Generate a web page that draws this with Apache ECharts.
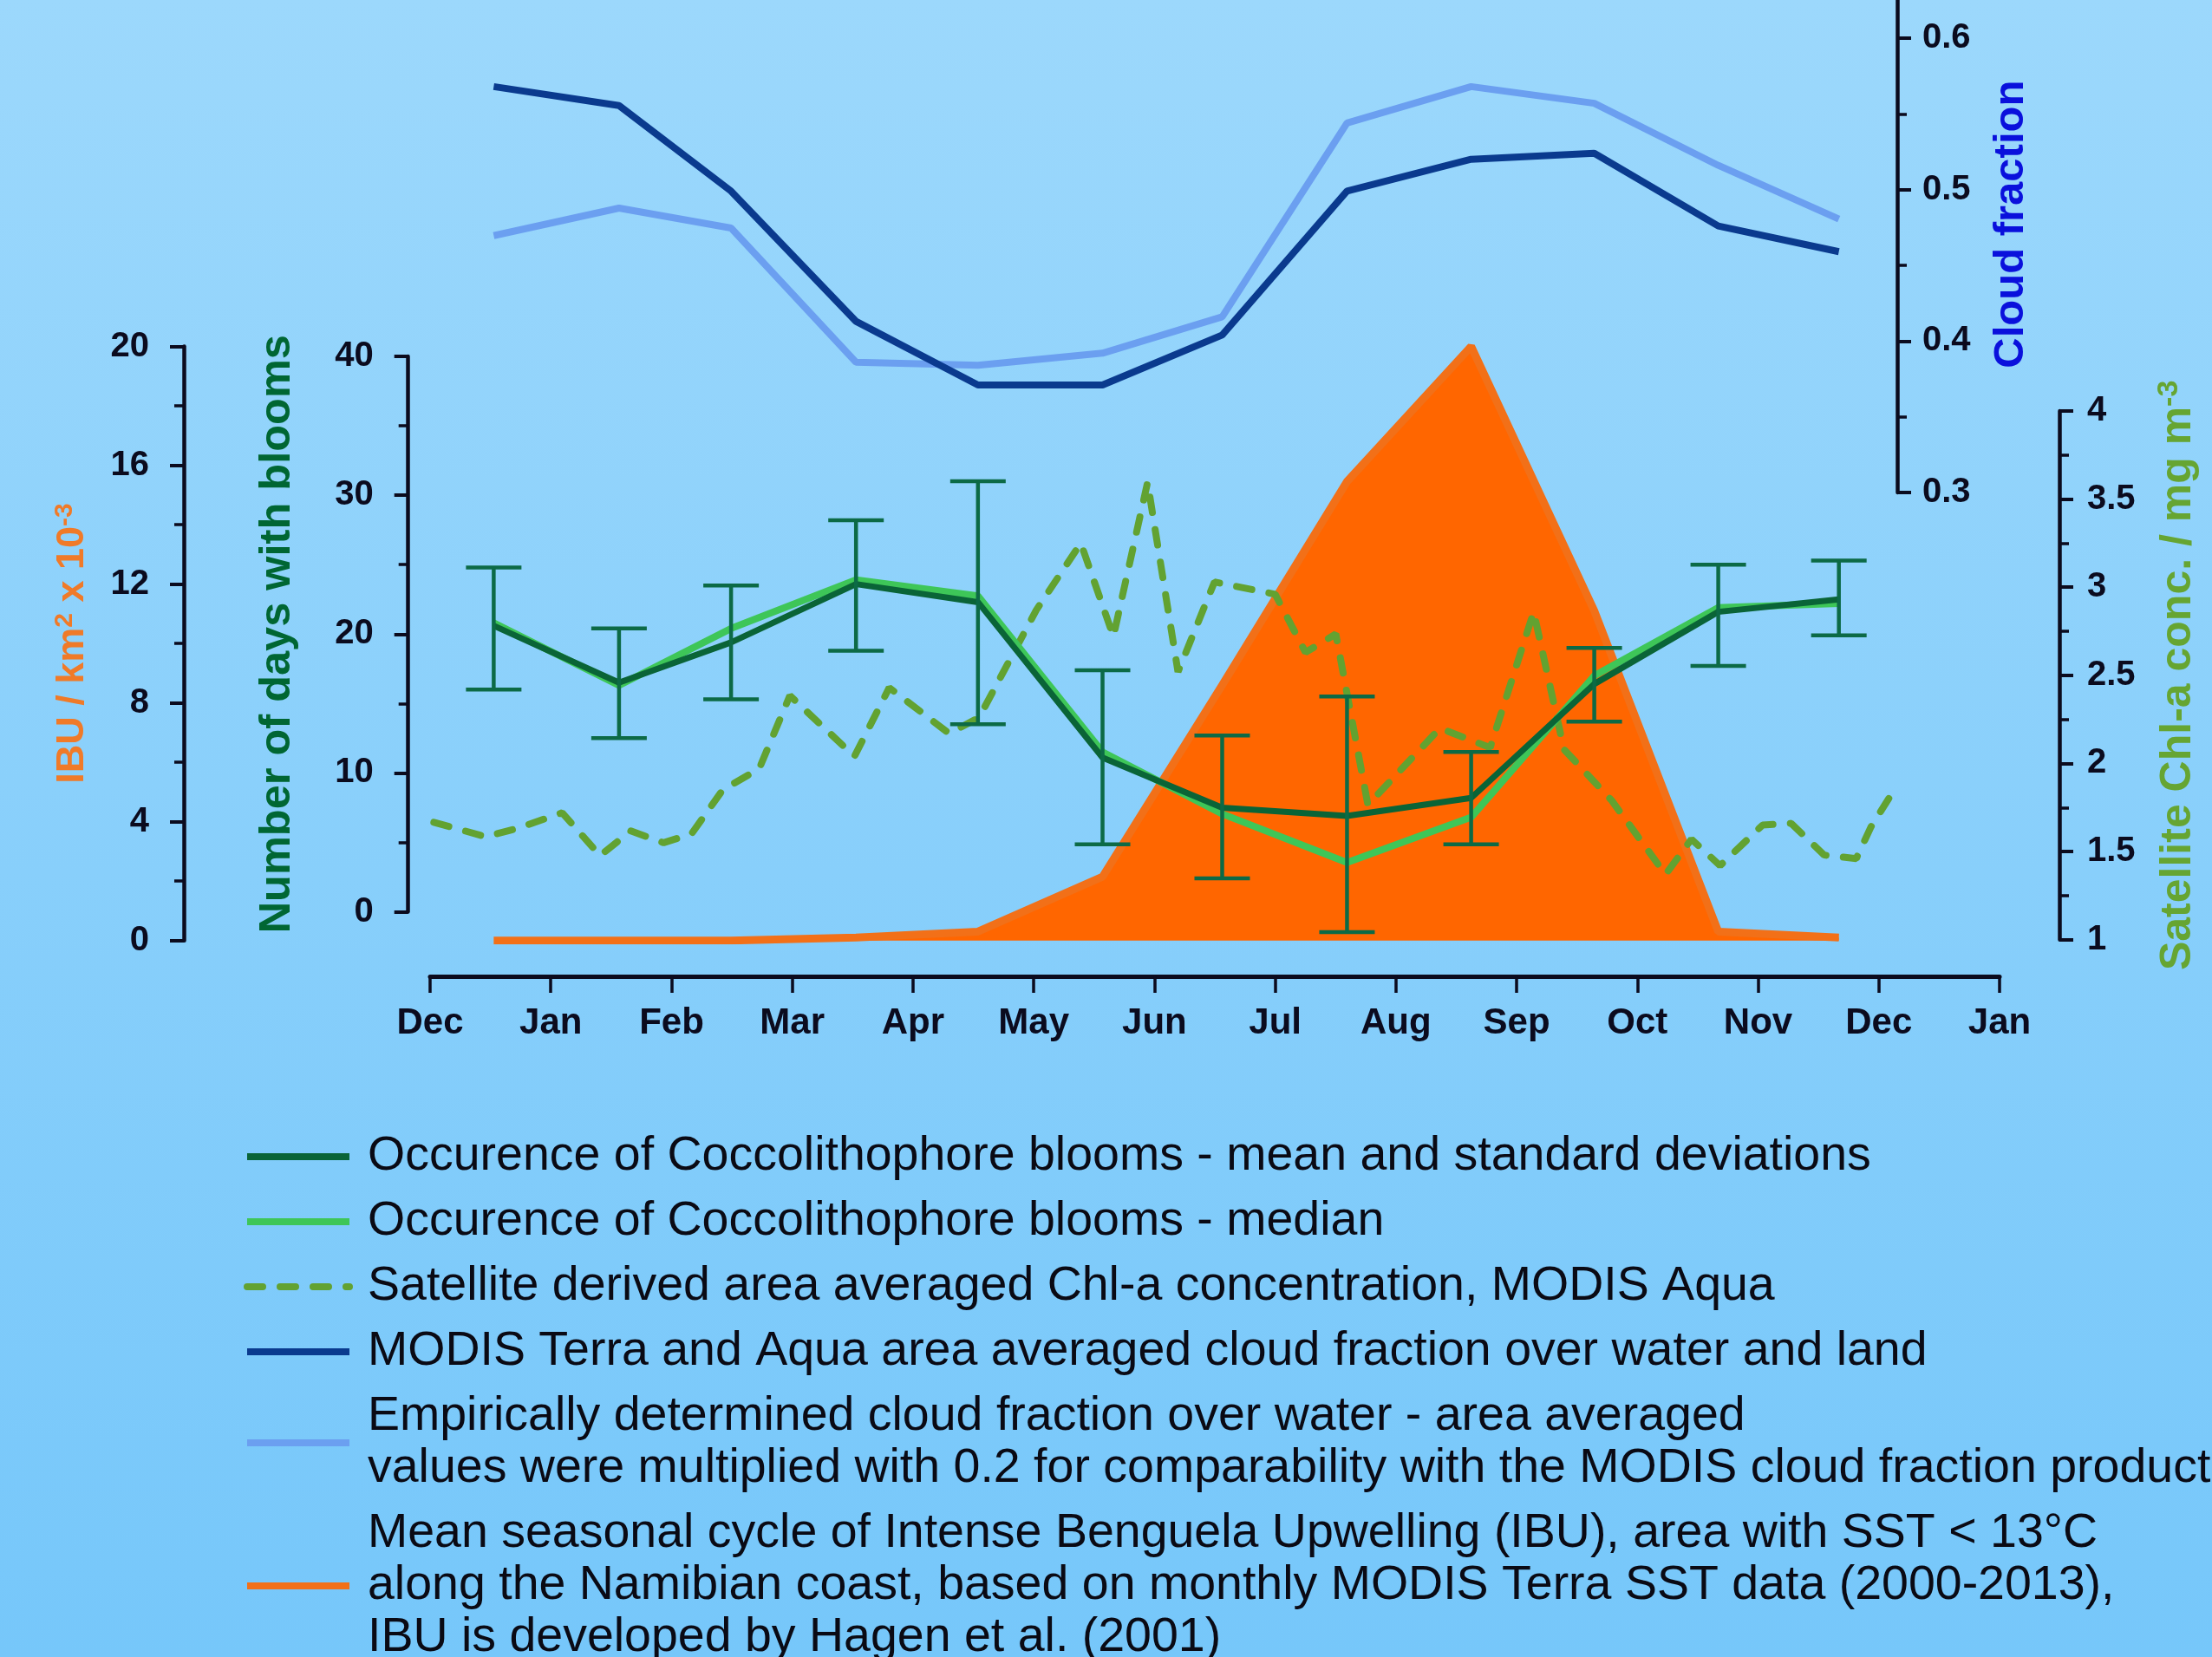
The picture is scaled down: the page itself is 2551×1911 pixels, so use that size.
<!DOCTYPE html>
<html>
<head>
<meta charset="utf-8">
<script src="https://cdn.jsdelivr.net/npm/echarts@6/dist/echarts.min.js"></script>
<style>
html,body{margin:0;padding:0;}
#chart{width:2551px;height:1911px;}
</style>
</head>
<body>
<div id="chart"></div>
<script>
// ---------- data ----------
// x axis: month tick labels at positions 0..13
const monthTickLabels = ['Dec','Jan','Feb','Mar','Apr','May','Jun','Jul','Aug','Sep','Oct','Nov','Dec','Jan'];
// positions of the 12 monthly values on that axis
const monthPos = [0.527, 1.565, 2.493, 3.528, 4.538, 5.570, 6.561, 7.595, 8.623, 9.643, 10.670, 11.669];

// Intense Benguela Upwelling, km2 x 10^-3
const ibu = [0, 0, 0, 0.1, 0.3, 2.15, 8.6, 15.45, 20.0, 11.1, 0.3, 0.1];

// Number of days with blooms
const bloomMean   = [20.6, 16.5, 19.4, 23.6, 22.3, 11.1, 7.5, 6.9, 8.2, 16.4, 21.6, 22.5];
const bloomMedian = [20.8, 16.3, 20.4, 23.9, 22.75, 11.5, 7.05, 3.55, 6.8, 17.0, 21.9, 22.2];
const bloomLower  = [16.0, 12.5, 15.3, 18.8, 13.5, 4.85, 2.4, -1.46, 4.85, 13.7, 17.7, 19.9];
const bloomUpper  = [24.8, 20.4, 23.5, 28.2, 31.0, 17.4, 12.7, 15.5, 11.5, 19.0, 25.0, 25.3];

// Satellite Chl-a concentration (mg m-3), finer time steps
const chlPos = [0.031, 0.462, 0.728, 1.094, 1.408, 1.662, 1.935, 2.165, 2.424, 2.726,
                2.980, 3.515, 3.803, 4.299, 4.547, 5.021, 5.390, 5.660, 5.943, 6.195,
                6.497, 7.000, 7.251, 7.502, 7.768, 8.365, 8.781, 9.141, 9.392, 9.787,
                10.233, 10.448, 10.685, 11.037, 11.274, 11.547, 11.813, 11.935, 12.100];
const chlValues = [1.666, 1.584, 1.633, 1.72, 1.477, 1.617, 1.55, 1.60, 1.85, 1.97,
                   2.385, 2.04, 2.43, 2.17, 2.26, 2.87, 3.25, 2.72, 3.595, 2.52,
                   3.03, 2.96, 2.63, 2.735, 1.765, 2.20, 2.09, 2.86, 2.08, 1.79,
                   1.37, 1.57, 1.42, 1.65, 1.66, 1.48, 1.46, 1.64, 1.82];

// Cloud fraction
const cloudModis     = [0.568, 0.5555, 0.499, 0.413, 0.371, 0.371, 0.404, 0.499, 0.520, 0.524, 0.476, 0.459];
const cloudEmpirical = [0.4696, 0.4878, 0.4746, 0.386, 0.384, 0.392, 0.416, 0.544, 0.568, 0.557, 0.516, 0.4805];

// axis ranges / ticks
const ibuAxis   = {min: 0, max: 20, interval: 4};
const daysAxis  = {min: 0, max: 40, interval: 10};
const cloudAxis = {min: 0.3, max: 0.7, interval: 0.1};
const chlAxis   = {min: 1, max: 4, interval: 0.5};

// legend names
const nameMean   = 'Occurence of Coccolithophore blooms - mean and standard deviations';
const nameMedian = 'Occurence of Coccolithophore blooms - median';
const nameChl    = 'Satellite derived area averaged Chl-a concentration, MODIS Aqua';
const nameModis  = 'MODIS Terra and Aqua area averaged cloud fraction over water and land';
const nameEmp    = 'Empirically determined cloud fraction over water - area averaged\nvalues were multiplied with 0.2 for comparability with the MODIS cloud fraction product';
const nameIbu    = 'Mean seasonal cycle of Intense Benguela Upwelling (IBU), area with SST < 13°C\nalong the Namibian coast, based on monthly MODIS Terra SST data (2000-2013),\nIBU is developed by Hagen et al. (2001)';

// ---------- build ----------
const zip = (xs, ys) => xs.map((x, i) => [x, ys[i]]);
const FONT = 'Liberation Sans';
const AX = '#0b0b1e';
const GL = 496, GR = 245;

function yAx(gridIndex, r, pos, offset, margin, extra) {
  return Object.assign({
    type: 'value', gridIndex, position: pos, offset,
    min: r.min, max: r.max, interval: r.interval,
    axisLine: {show: true, onZero: false, lineStyle: {color: AX, width: 4.5}},
    axisTick: {show: true, length: 16, lineStyle: {color: AX, width: 4}},
    minorTick: {show: true, splitNumber: 2, length: 11, lineStyle: {color: AX, width: 3.5}},
    splitLine: {show: false},
    axisLabel: {show: true, margin, color: AX, fontSize: 40, fontWeight: 'bold', fontFamily: FONT},
    nameLocation: 'middle', nameRotate: 90, nameMoveOverlap: false
  }, extra);
}

const grids = [
  {left: GL, right: GR, top: 399.5, height: 685.2},     // IBU
  {left: GL, right: GR, top: 411, height: 640.5},       // days
  {left: GL, right: GR, top: 568 - 0.4 * 1746.7, height: 0.4 * 1746.7}, // cloud
  {left: GL, right: GR, top: 474, height: 609.7},       // chl
  {left: GL, right: GR, top: 1000, height: 126}         // x axis
].map(g => Object.assign({outerBoundsMode: 'none', containLabel: false}, g));

const xAxes = [0,1,2,3,4].map(i => ({
  type: 'value', gridIndex: i, min: 0, max: 13, interval: 1,
  show: i === 4, position: 'bottom',
  axisLine: {show: true, onZero: false, lineStyle: {color: AX, width: 5}},
  axisTick: {show: true, length: 19, lineStyle: {color: AX, width: 3.5}},
  splitLine: {show: false},
  axisLabel: {show: true, margin: 33, color: AX, fontSize: 42, fontWeight: 'bold', fontFamily: FONT,
              formatter: v => monthTickLabels[Math.round(v)] || ''}
}));

const yAxes = [
  yAx(0, ibuAxis, 'left', GL - 212, 40, {
    name: '{a|IBU / km}{s|2}{a| x 10}{s|-3}', nameGap: 104,
    nameTextStyle: {color: '#f07a28', fontFamily: FONT,
      rich: {a: {fontSize: 45, lineHeight: 48, fontWeight: 'bold', color: '#f07a28', fontFamily: FONT},
             s: {fontSize: 30, lineHeight: 22, verticalAlign: 'top', fontWeight: 'bold', color: '#f07a28', fontFamily: FONT}}}
  }),
  yAx(1, daysAxis, 'left', GL - 470.7, 40, {
    name: 'Number of days with blooms', nameGap: 125,
    nameTextStyle: {color: '#006633', fontSize: 50.5, fontWeight: 'bold', fontFamily: FONT}
  }),
  yAx(2, cloudAxis, 'right', 2188 - (2551 - GR), 29, {
    axisLabel: {show: true, margin: 29, color: AX, fontSize: 40, fontWeight: 'bold', fontFamily: FONT,
                formatter: v => (Math.round(v * 10) / 10).toFixed(1)},
    name: 'Cloud fraction', nameGap: 107,
    nameTextStyle: {color: '#0a10dc', fontSize: 49, fontWeight: 'bold', fontFamily: FONT, padding: [0, 80, 0, 0]}
  }),
  yAx(3, chlAxis, 'right', 2375 - (2551 - GR), 32, {
    name: '{a|Satellite Chl-a conc. / mg m}{s|-3}', nameGap: 110,
    nameTextStyle: {color: '#66a532', fontFamily: FONT,
      rich: {a: {fontSize: 50, lineHeight: 54, fontWeight: 'bold', color: '#66a532', fontFamily: FONT},
             s: {fontSize: 34, lineHeight: 26, verticalAlign: 'top', fontWeight: 'bold', color: '#66a532', fontFamily: FONT}}}
  }),
  {type: 'value', gridIndex: 4, show: false, min: 0, max: 1}
];

const errData = monthPos.map((x, i) => [x, bloomLower[i], bloomUpper[i]]);

const series = [
  {
    name: nameIbu, type: 'line', xAxisIndex: 0, yAxisIndex: 0, z: 1,
    data: zip(monthPos, ibu), symbol: 'none', smooth: false,
    lineStyle: {color: '#f27018', width: 9},
    itemStyle: {color: '#f27018'},
    areaStyle: {color: '#ff6600', opacity: 1}
  },
  {
    name: nameChl, type: 'line', xAxisIndex: 3, yAxisIndex: 3, z: 2,
    data: zip(chlPos, chlValues), symbol: 'none',
    lineStyle: {color: '#62a231', width: 8, type: [18, 20], cap: 'round'},
    itemStyle: {color: '#62a231'}
  },
  {
    name: nameEmp, type: 'line', xAxisIndex: 2, yAxisIndex: 2, z: 3,
    data: zip(monthPos, cloudEmpirical), symbol: 'none',
    lineStyle: {color: '#6b9ff0', width: 8},
    itemStyle: {color: '#6b9ff0'}
  },
  {
    name: nameModis, type: 'line', xAxisIndex: 2, yAxisIndex: 2, z: 3,
    data: zip(monthPos, cloudModis), symbol: 'none',
    lineStyle: {color: '#0a3a8e', width: 8},
    itemStyle: {color: '#0a3a8e'}
  },
  {
    name: nameMedian, type: 'line', xAxisIndex: 1, yAxisIndex: 1, z: 4,
    data: zip(monthPos, bloomMedian), symbol: 'none',
    lineStyle: {color: '#3ec658', width: 8},
    itemStyle: {color: '#3ec658'}
  },
  {
    name: nameMean, type: 'line', xAxisIndex: 1, yAxisIndex: 1, z: 5,
    data: zip(monthPos, bloomMean), symbol: 'none',
    lineStyle: {color: '#0a6437', width: 7},
    itemStyle: {color: '#0a6437'}
  },
  {
    name: 'Standard deviation', type: 'custom', xAxisIndex: 1, yAxisIndex: 1, z: 6,
    data: errData, encode: {x: 0, y: [1, 2]},
    renderItem: function (params, api) {
      const x = api.value(0);
      const lo = api.coord([x, api.value(1)]);
      const hi = api.coord([x, api.value(2)]);
      const hw = 32;
      const style = {stroke: '#0c6a46', lineWidth: 4.5, fill: null};
      return {type: 'group', children: [
        {type: 'line', shape: {x1: lo[0], y1: lo[1], x2: hi[0], y2: hi[1]}, style},
        {type: 'line', shape: {x1: lo[0] - hw, y1: lo[1], x2: lo[0] + hw, y2: lo[1]}, style},
        {type: 'line', shape: {x1: hi[0] - hw, y1: hi[1], x2: hi[0] + hw, y2: hi[1]}, style}
      ]};
    }
  }
];

const option = {
  animation: false,
  backgroundColor: {
    type: 'linear', x: 0, y: 0, x2: 0, y2: 1,
    colorStops: [{offset: 0, color: '#9cd8fc'}, {offset: 1, color: '#76c7fa'}]
  },
  grid: grids,
  xAxis: xAxes,
  yAxis: yAxes,
  legend: {
    orient: 'vertical', left: 281, top: 1304, height: 800, width: 2300, padding: 0,
    itemGap: 15, itemWidth: 118, itemHeight: 14,
    data: [nameMean, nameMedian, nameChl, nameModis, nameEmp, nameIbu],
    textStyle: {fontSize: 55.5, fontFamily: FONT, color: '#0a0a14', lineHeight: 60, padding: [0, 0, 0, 16]},
    lineStyle: {width: 8},
    itemStyle: {opacity: 0},
    selectedMode: false
  },
  series
};

const chart = echarts.init(document.getElementById('chart'), null, {renderer: 'canvas'});
chart.setOption(option);
</script>
</body>
</html>
